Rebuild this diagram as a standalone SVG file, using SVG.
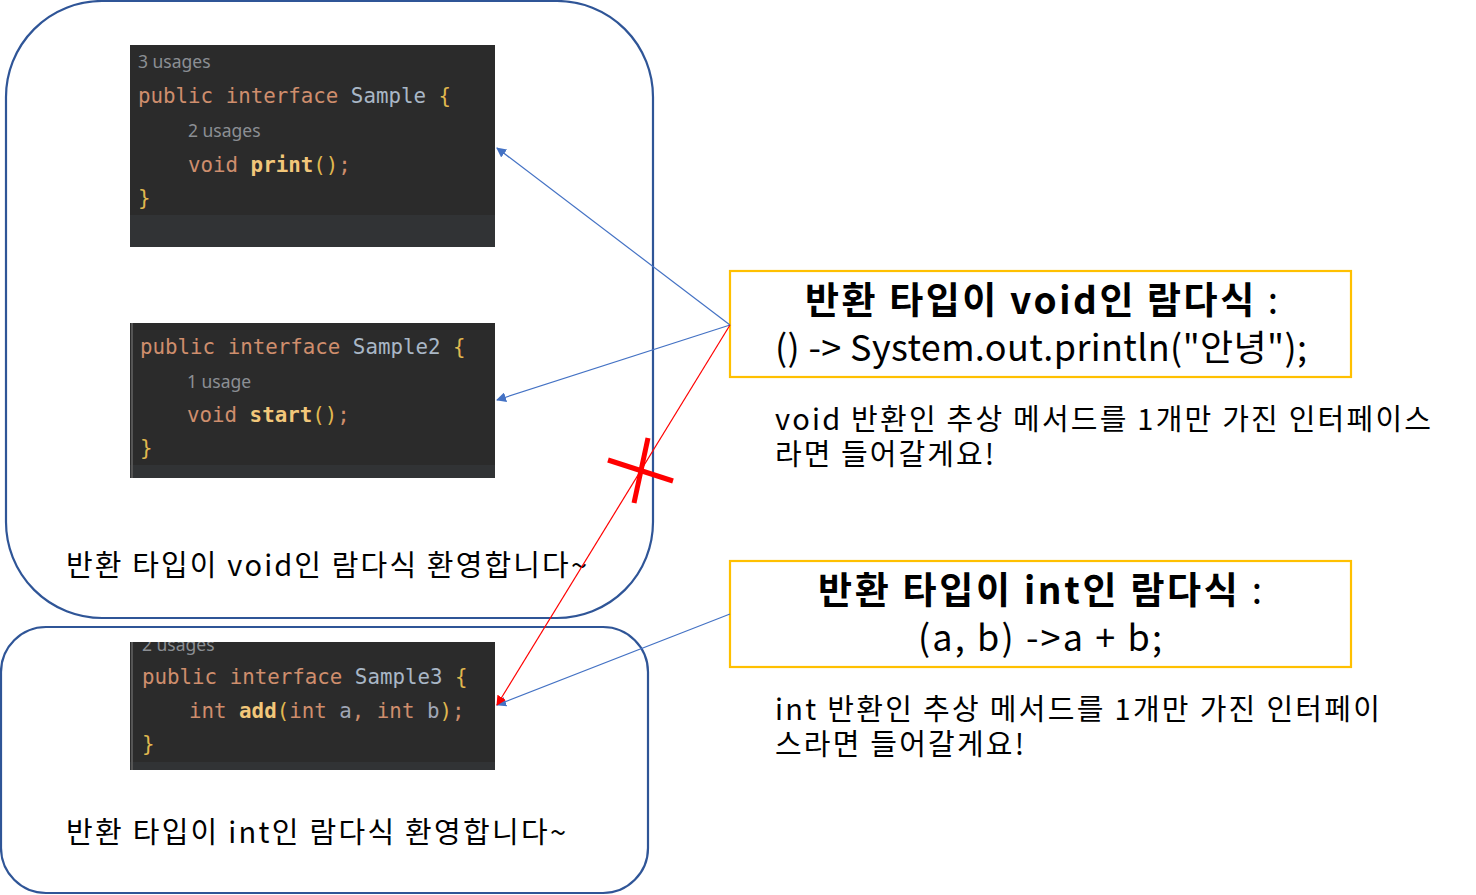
<svg xmlns="http://www.w3.org/2000/svg" width="1476" height="895" viewBox="0 0 1476 895">
<defs>
<style>
.frame{fill:none;stroke:#2f5597;stroke-width:2.2}
.ybox{fill:#fff;stroke:#ffc000;stroke-width:2.2}
.code{font-family:"DejaVu Sans Mono","Liberation Mono",monospace;font-size:20.8px}
.gray{font-family:"Noto Sans","Liberation Sans",sans-serif;font-size:17.5px;fill:#8c8f94}
.kw{fill:#cf8e6d}
.cls{fill:#a9b7c6}
.br{fill:#e0b84f}
.fn{fill:#f2c77a;font-weight:bold}
.par{fill:#a0a6b6}
.kr{font-family:"Noto Sans CJK KR","Noto Sans",sans-serif;fill:#000}
.blue{stroke:#4472c4;stroke-width:1.2;fill:none}
.red{stroke:#ff0000;stroke-width:1.2;fill:none}
</style>
<marker id="ab" viewBox="0 0 10 10" refX="9" refY="5" markerWidth="10" markerHeight="10" markerUnits="userSpaceOnUse" orient="auto"><path d="M0,0 L10,5 L0,10 z" fill="#4472c4"/></marker>
<marker id="ar" viewBox="0 0 10 10" refX="9" refY="5" markerWidth="10" markerHeight="10" markerUnits="userSpaceOnUse" orient="auto"><path d="M0,0 L10,5 L0,10 z" fill="#ff0000"/></marker>
<clipPath id="cc"><rect x="130" y="642" width="365" height="128"/></clipPath>
</defs>

<g id="frame-void">
<rect class="frame" x="6" y="1" width="647" height="617" rx="96" ry="96"/>
<text class="kr" x="66" y="576" font-size="29" textLength="521" lengthAdjust="spacing">반환 타입이 void인 람다식 환영합니다~</text>
</g>

<g id="frame-int">
<rect class="frame" x="1" y="627" width="647" height="266" rx="45" ry="45"/>
<text class="kr" x="66" y="843" font-size="29" textLength="500" lengthAdjust="spacing">반환 타입이 int인 람다식 환영합니다~</text>
</g>

<g id="code-sample">
<rect x="130" y="45" width="365" height="202" fill="#2b2b2b"/>
<rect x="130" y="215" width="365" height="32" fill="#313335"/>
<text class="gray" x="138" y="68">3 usages</text>
<text class="code" x="138" y="103"><tspan class="kw">public interface </tspan><tspan class="cls">Sample </tspan><tspan class="br">{</tspan></text>
<text class="gray" x="188" y="137">2 usages</text>
<text class="code" x="188" y="172"><tspan class="kw">void </tspan><tspan class="fn">print</tspan><tspan class="br">()</tspan><tspan class="kw">;</tspan></text>
<text class="code" x="138" y="205"><tspan class="br">}</tspan></text>
</g>

<g id="code-sample2">
<rect x="130" y="323" width="365" height="155" fill="#2b2b2b"/>
<rect x="130" y="465" width="365" height="13" fill="#313335"/>
<rect x="131" y="323" width="2" height="155" fill="#555"/>
<text class="code" x="140" y="354"><tspan class="kw">public interface </tspan><tspan class="cls">Sample2 </tspan><tspan class="br">{</tspan></text>
<text class="gray" x="187" y="388">1 usage</text>
<text class="code" x="187" y="422"><tspan class="kw">void </tspan><tspan class="fn">start</tspan><tspan class="br">()</tspan><tspan class="kw">;</tspan></text>
<text class="code" x="140" y="455"><tspan class="br">}</tspan></text>
</g>

<g id="code-sample3">
<rect x="130" y="642" width="365" height="128" fill="#2b2b2b"/>
<rect x="130" y="762" width="365" height="8" fill="#313335"/>
<rect x="131" y="642" width="2" height="128" fill="#555"/>
<g clip-path="url(#cc)"><text class="gray" x="142" y="651">2 usages</text></g>
<text class="code" x="142" y="684"><tspan class="kw">public interface </tspan><tspan class="cls">Sample3 </tspan><tspan class="br">{</tspan></text>
<text class="code" x="189" y="718"><tspan class="kw">int </tspan><tspan class="fn">add</tspan><tspan class="br">(</tspan><tspan class="kw">int </tspan><tspan class="par">a</tspan><tspan class="kw">, int </tspan><tspan class="par">b</tspan><tspan class="br">)</tspan><tspan class="kw">;</tspan></text>
<text class="code" x="142" y="751"><tspan class="br">}</tspan></text>
</g>

<g id="lambda-void">
<rect class="ybox" x="730" y="271" width="621" height="106"/>
<text class="kr" x="805" y="314" font-size="37" textLength="473" lengthAdjust="spacing"><tspan font-weight="bold">반환 타입이 void인 람다식 </tspan><tspan>:</tspan></text>
<text class="kr" x="775" y="361" font-size="36" textLength="532" lengthAdjust="spacing">() -&gt; System.out.println("안녕");</text>
</g>
<g id="note-void">
<text class="kr" x="775" y="430" font-size="29" textLength="656" lengthAdjust="spacing">void 반환인 추상 메서드를 1개만 가진 인터페이스</text>
<text class="kr" x="775" y="465" font-size="29" textLength="219" lengthAdjust="spacing">라면 들어갈게요!</text>
</g>

<g id="lambda-int">
<rect class="ybox" x="730" y="561" width="621" height="106"/>
<text class="kr" x="818" y="604" font-size="37" textLength="444" lengthAdjust="spacing"><tspan font-weight="bold">반환 타입이 int인 람다식 </tspan><tspan>:</tspan></text>
<text class="kr" x="918" y="651" font-size="36" textLength="244" lengthAdjust="spacing">(a, b) -&gt;a + b;</text>
</g>
<g id="note-int">
<text class="kr" x="775" y="720" font-size="29" textLength="605" lengthAdjust="spacing">int 반환인 추상 메서드를 1개만 가진 인터페이</text>
<text class="kr" x="775" y="755" font-size="29" textLength="249" lengthAdjust="spacing">스라면 들어갈게요!</text>
</g>

<g id="connectors">
<line class="blue" x1="730" y1="325" x2="497" y2="148" marker-end="url(#ab)"/>
<line class="blue" x1="730" y1="325" x2="497" y2="400" marker-end="url(#ab)"/>
<line class="blue" x1="730" y1="614" x2="497" y2="705" marker-end="url(#ab)"/>
<line class="red" x1="730" y1="325" x2="497" y2="705" marker-end="url(#ar)"/>
<line x1="608" y1="460" x2="673" y2="481" stroke="#ff0000" stroke-width="5"/>
<line x1="648" y1="438" x2="634" y2="503" stroke="#ff0000" stroke-width="5"/>
</g>
</svg>
